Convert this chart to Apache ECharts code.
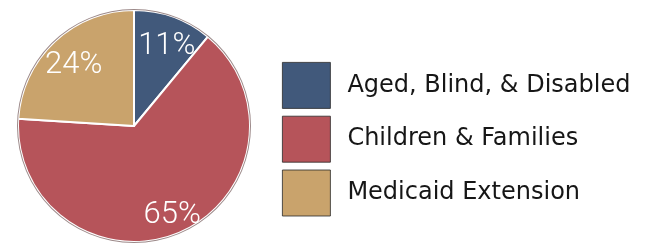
<!DOCTYPE html>
<html>
<head>
<meta charset="utf-8">
<script src="https://cdn.jsdelivr.net/npm/echarts@6/dist/echarts.min.js"></script>
<style>
  html, body { margin: 0; padding: 0; background: #fff; }
  #chart { width: 670px; height: 244px; }
</style>
</head>
<body>
<div id="chart"></div>
<script>
const categories = ['Aged, Blind, & Disabled', 'Children & Families', 'Medicaid Extension']
const shares = [11, 65, 24]
const colors = ['#41597b', '#b6545a', '#c9a36c']

let chart = echarts.init(document.getElementById('chart'))

let pieData = categories.map((name, i) => ({
  name,
  value: shares[i],
  itemStyle: { color: colors[i] }
}))

chart.setOption({
  animation: false,
  legend: {
    orient: 'vertical',
    left: 277,
    top: 57,
    itemWidth: 48,
    itemHeight: 46,
    itemGap: 7,
    icon: 'rect',
    selectedMode: false,
    data: categories,
    itemStyle: { borderColor: '#2a2a2a', borderWidth: 0.8 },
    textStyle: {
      fontFamily: 'DejaVu Sans',
      fontSize: 24,
      color: '#161616',
      padding: [0, 0, 0, 12]
    }
  },
  series: [
    {
      type: 'pie',
      center: [134, 126],
      radius: [0, 116],
      startAngle: 90,
      clockwise: true,
      silent: true,
      label: { show: false },
      labelLine: { show: false },
      itemStyle: { borderColor: '#fff', borderWidth: 2 },
      data: pieData
    },
    {
      // outer edge line
      type: 'pie',
      center: [134, 126],
      radius: [116, 117],
      startAngle: 90,
      silent: true,
      legendHoverLink: false,
      label: { show: false },
      labelLine: { show: false },
      itemStyle: { color: '#5a3a3a', opacity: 0.6 },
      data: [{ name: 'edge', value: 1 }]
    },
    {
      // transparent ring only used to place the percent labels further out
      type: 'pie',
      center: [134, 126],
      radius: [60, 116],
      startAngle: 90,
      clockwise: true,
      silent: true,
      legendHoverLink: false,
      itemStyle: { color: 'transparent', borderWidth: 0 },
      label: {
        show: true,
        position: 'inside',
        formatter: '{c}%',
        color: '#fff',
        fontFamily: 'Roboto',
        fontWeight: 300,
        fontSize: 31
      },
      labelLayout: { dx: 2, dy: 6 },
      labelLine: { show: false },
      data: categories.map((name, i) => ({ name: name + ' ', value: shares[i] }))
    }
  ]
})
</script>
</body>
</html>
